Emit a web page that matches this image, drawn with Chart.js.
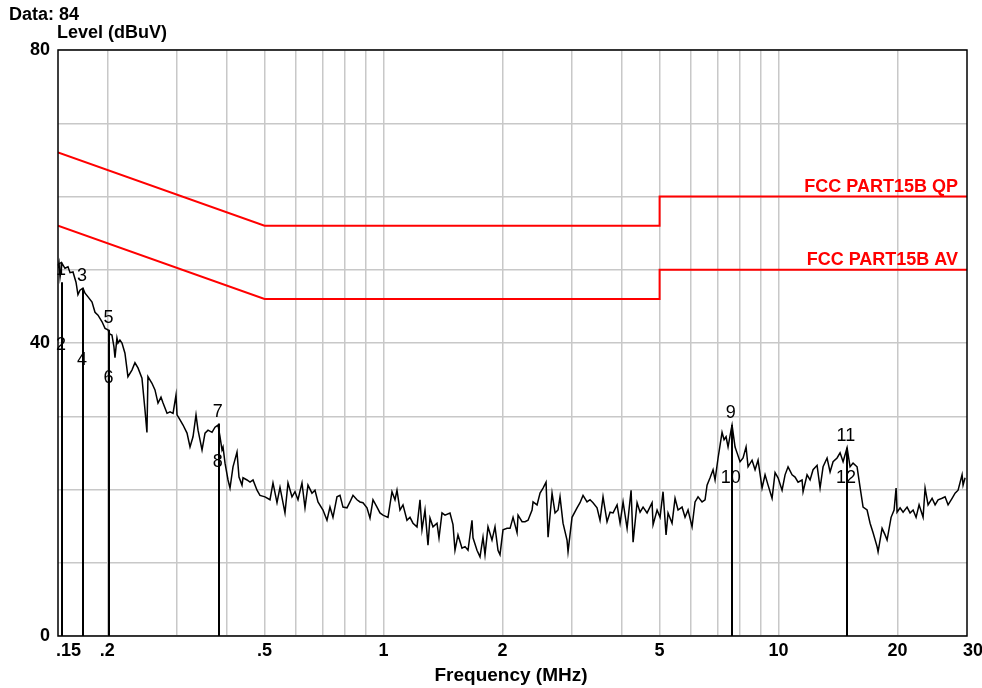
<!DOCTYPE html>
<html>
<head>
<meta charset="utf-8">
<script src="https://cdn.jsdelivr.net/npm/chart.js@4.4.1/dist/chart.umd.min.js"></script>
<style>
  html, body { margin: 0; padding: 0; background: #ffffff; }
  canvas { display: block; }
</style>
</head>
<body>
<canvas id="c" width="982" height="688"></canvas>
<script>
// ---- Data ----
const freqMHz = [
  0.150,0.1509,0.1518,0.1535,0.1562,0.1590,0.1609,0.1637,0.1666,0.1685,0.1705,0.1735,0.1756,0.1787,0.1829,0.1861,0.1894,0.1939,0.1973,0.2007,
  0.2031,0.2054,0.2078,0.2091,0.2115,0.2128,0.2152,0.2178,0.2216,0.2255,0.2308,0.2349,0.2391,0.2447,0.2490,0.2519,0.2534,0.2594,0.2640,0.2687,
  0.2734,0.2767,0.2832,0.2882,0.2933,0.2984,0.3002,0.3055,0.3109,0.3182,0.3238,0.3295,0.3353,0.3393,0.3473,0.3534,0.3596,
  0.3681,0.3746,0.3812,0.3857,0.3902,0.3925,0.3971,0.4041,0.4088,0.4160,0.4258,0.4308,0.4384,0.4410,0.4514,0.4594,0.4675,0.4785,
  0.4868,0.5013,0.5161,0.5252,0.5376,0.5471,0.5632,0.5732,0.5867,0.5970,0.6076,0.6219,0.6329,
  0.6440,0.6592,0.6708,0.6827,0.7029,0.7194,0.7321,0.7450,0.7626,0.7761,0.7898,0.8084,0.8226,0.8372,0.8569,
  0.8720,0.8874,0.9083,0.9244,0.9407,0.9629,0.9798,0.9971,1.0266,1.0508,1.0694,1.0819,1.1010,1.1204,1.1468,
  1.1671,1.1877,1.2157,1.2372,1.2517,1.2738,1.2962,1.3114,1.3346,1.3661,1.3821,1.4065,1.4313,1.4736,1.4996,1.5172,
  1.544,1.5804,1.6083,1.6367,1.6753,1.6851,1.7248,1.7553,1.7862,1.8072,1.8390,1.8824,1.9156,1.9494,1.9723,2.0071,
  2.055,2.0913,2.1281,2.1783,2.1911,2.2428,2.2824,2.3226,2.3774,2.3913,2.4477,2.4909,2.5348,2.5795,2.6098,2.6714,2.7185,
  2.766,2.7984,2.8478,2.9150,2.9321,3.0012,3.0900,3.1445,3.2000,3.2755,3.3332,3.3920,3.4720,3.5333,3.5956,3.6804,
  3.7465,3.8126,3.9025,3.9714,4.0414,4.1367,4.2343,4.2840,4.3851,4.4624,4.5411,4.6482,4.7857,4.8136,4.9272,
  5.0131,5.1016,5.1916,5.2525,5.3764,5.4713,5.5677,5.6991,5.7996,5.9019,6.0412,6.1477,6.2561,6.4037,6.5167,
  6.5934,6.7099,6.8282,6.9083,7.0302,7.1960,7.2804,7.3658,7.4521,7.5836,7.6279,7.7625,7.8535,7.9920,8.1330,8.2765,8.3735,8.5711,8.7222,
  8.876,9.0854,9.2458,9.4089,9.6308,9.8008,9.9736,10.209,10.389,10.572,10.822,11.012,11.207,11.471,11.538,11.810,
  12.019,12.231,12.520,12.741,12.966,13.271,13.506,13.744,14.068,14.316,14.569,14.912,15.175,15.443,15.807,
  16.087,16.370,16.757,17.052,17.353,17.762,17.866,18.288,18.610,18.828,19.273,19.613,19.843,19.959,20.311,20.669,21.157,
  21.530,21.910,22.296,22.689,23.225,23.497,23.911,24.476,24.907,25.347,25.945,26.402,26.868,27.502,27.987,
  28.48,29.152,29.323,29.666
];
const levelDbuV = [
  50.2,50.9,49.0,50.9,50.2,50.4,49.6,49.7,48.3,46.6,47.2,47.5,46.8,46.3,45.6,44.2,43.8,42.9,42.0,41.8,
  41.2,41.1,39.5,38.0,40.7,40.0,40.4,40.0,38.6,35.4,36.3,37.3,36.6,35.2,30.9,27.8,35.4,34.5,33.6,31.8,
  32.6,31.8,30.4,30.6,30.4,32.9,30.2,29.5,28.8,27.7,25.8,27.2,30.2,28.1,25.4,27.7,28.1,
  27.8,28.5,28.8,27.2,25.4,25.8,23.6,21.3,20.2,23.1,25.1,21.7,20.6,21.6,21.3,21.0,21.3,19.9,
  19.2,19.0,18.6,20.9,18.2,20.3,16.8,20.9,19.0,19.7,18.6,20.9,17.5,
  20.6,19.5,19.9,18.3,17.2,15.8,17.6,16.2,19.0,19.2,17.6,17.5,18.3,19.2,18.6,
  18.3,18.2,17.5,16.1,18.6,17.6,16.8,16.5,16.2,19.7,18.6,19.9,17.2,17.9,15.8,
  16.2,15.4,14.9,18.6,14.5,17.2,12.4,16.1,14.9,15.4,13.4,16.8,16.5,16.8,15.2,11.7,
  13.8,12.0,12.2,11.7,15.8,13.4,11.7,10.8,13.5,11.1,14.9,13.1,14.9,11.7,11.1,14.5,
  14.7,14.7,16.2,14.1,16.5,15.6,15.6,15.8,17.2,18.3,17.9,19.5,20.2,21.0,13.5,19.5,16.8,
  17.2,19.0,15.4,13.1,11.5,16.2,17.5,18.2,19.2,18.3,18.6,18.2,17.5,15.8,19.0,15.6,
  16.9,16.8,17.9,15.4,18.3,14.7,19.9,12.8,18.2,16.9,17.6,16.8,18.2,15.2,17.2,
  16.2,19.7,13.8,16.8,15.4,18.8,17.2,17.6,16.2,17.2,14.9,18.3,19.0,18.3,18.6,
  20.6,21.6,22.7,21.3,24.3,27.8,26.8,27.2,25.8,28.1,28.8,25.8,25.0,23.8,24.3,25.8,23.1,24.0,22.7,
  24.0,20.2,22.0,20.6,18.8,22.3,21.6,19.9,22.0,23.1,22.0,21.7,21.0,21.3,19.7,22.0,
  21.3,22.7,23.3,20.2,23.1,24.3,22.4,23.8,24.3,25.0,23.8,25.7,23.1,23.6,23.1,
  20.3,17.6,17.2,15.4,14.1,12.2,11.5,14.7,13.8,13.1,16.2,17.2,20.2,16.9,17.5,16.9,17.6,
  16.8,17.2,16.2,17.9,16.2,20.2,17.9,18.8,17.9,18.6,18.8,19.0,17.9,18.8,19.5,
  19.9,22.0,20.6,21.6
];

const limitFreq = [0.15, 0.5, 5, 5, 30];
const qpLimit   = [66, 56, 56, 60, 60];
const avLimit   = [56, 46, 46, 50, 50];
const qpLimitName = 'FCC PART15B QP';
const avLimitName = 'FCC PART15B AV';

const markerFreq   = [0.1535, 0.1735, 0.2025, 0.383, 7.61, 14.9];
const markerQp     = [48.3, 47.5, 41.8, 29.0, 28.8, 25.7];
const markerAv     = [38.1, 36.0, 33.6, 22.1, 19.9, 19.9];
const markerQpName = ['1', '3', '5', '7', '9', '11'];
const markerAvName = ['2', '4', '6', '8', '10', '12'];

const xTickValues = [0.15, 0.2, 0.5, 1, 2, 5, 10, 20, 30];
const xTickLabels = ['.15', '.2', '.5', '1', '2', '5', '10', '20', '30'];
const xGridValues = [0.2, 0.3, 0.4, 0.5, 0.6, 0.7, 0.8, 0.9, 1, 2, 3, 4, 5, 6, 7, 8, 9, 10, 20];
const yTickLabelled = [0, 40, 80];

const titleText = 'Data: 84';
const yTitle = 'Level (dBuV)';
const xTitle = 'Frequency (MHz)';

// ---- Chart ----
const FONT = 'Arial, "Liberation Sans", sans-serif';
const pts = (xs, ys) => xs.map((x, i) => ({ x: x, y: ys[i] }));

const decor = {
  id: 'decor',
  afterDatasetsDraw(chart) {
    const ctx = chart.ctx;
    const xs = chart.scales.x, ys = chart.scales.y;
    const ca = chart.chartArea;
    ctx.save();
    // marker lines
    ctx.strokeStyle = '#000';
    ctx.lineWidth = 2;
    markerFreq.forEach((f, i) => {
      const px = Math.round(xs.getPixelForValue(f));
      ctx.beginPath();
      ctx.moveTo(px, ys.getPixelForValue(0));
      ctx.lineTo(px, ys.getPixelForValue(markerQp[i]));
      ctx.stroke();
    });
    // marker labels
    ctx.fillStyle = '#000';
    ctx.font = '18px ' + FONT;
    ctx.textAlign = 'center';
    ctx.textBaseline = 'middle';
    markerFreq.forEach((f, i) => {
      const px = xs.getPixelForValue(f) - 1;
      ctx.fillText(markerQpName[i], px, ys.getPixelForValue(markerQp[i]) - 12);
      ctx.fillText(markerAvName[i], px, ys.getPixelForValue(markerAv[i]) - 12);
    });
    // limit names
    ctx.fillStyle = '#ff0000';
    ctx.font = 'bold 18px ' + FONT;
    ctx.textAlign = 'right';
    ctx.textBaseline = 'alphabetic';
    ctx.fillText(qpLimitName, ca.right - 9, ys.getPixelForValue(qpLimit[4]) - 5);
    ctx.fillText(avLimitName, ca.right - 9, ys.getPixelForValue(avLimit[4]) - 5);
    // frame
    ctx.strokeStyle = '#000';
    ctx.lineWidth = 1.5;
    ctx.strokeRect(ca.left, ca.top, ca.right - ca.left, ca.bottom - ca.top);
    // x tick labels
    ctx.fillStyle = '#000';
    ctx.font = 'bold 18px ' + FONT;
    ctx.textBaseline = 'middle';
    xTickValues.forEach((v, i) => {
      let px = xs.getPixelForValue(v);
      if (i === 0) { ctx.textAlign = 'left'; px -= 2; }
      else if (i === xTickValues.length - 1) { ctx.textAlign = 'left'; px -= 4; }
      else ctx.textAlign = 'center';
      ctx.fillText(xTickLabels[i], px, ca.bottom + 15);
    });
    // titles
    ctx.textAlign = 'center';
    ctx.font = 'bold 19px ' + FONT;
    ctx.fillText(xTitle, 511, ca.bottom + 40);
    ctx.textAlign = 'left';
    ctx.font = 'bold 18px ' + FONT;
    ctx.fillText(titleText, 9, 15);
    ctx.fillText(yTitle, 57, 33);
    ctx.restore();
  }
};

new Chart(document.getElementById('c'), {
  type: 'scatter',
  data: {
    datasets: [
      { data: pts(freqMHz, levelDbuV), showLine: true, borderColor: '#000', borderWidth: 1.5,
        pointRadius: 0, tension: 0, order: 1 },
      { data: pts(limitFreq, qpLimit), showLine: true, borderColor: '#ff0000', borderWidth: 2,
        pointRadius: 0, tension: 0, order: 2 },
      { data: pts(limitFreq, avLimit), showLine: true, borderColor: '#ff0000', borderWidth: 2,
        pointRadius: 0, tension: 0, order: 2 }
    ]
  },
  options: {
    responsive: false,
    animation: false,
    devicePixelRatio: 1,
    layout: { padding: { top: 50, right: 15, left: 0, bottom: 0 } },
    plugins: { legend: { display: false }, tooltip: { enabled: false } },
    scales: {
      x: {
        type: 'logarithmic', min: 0.15, max: 30,
        afterBuildTicks: (s) => { s.ticks = xGridValues.map(v => ({ value: v })); },
        afterFit: (s) => { s.height = 52; },
        ticks: { display: false },
        grid: { color: '#c8c8c8', lineWidth: 1.5, drawTicks: false },
        border: { display: false }
      },
      y: {
        type: 'linear', min: 0, max: 80,
        ticks: {
          stepSize: 10, padding: 8, color: '#000',
          font: { family: FONT, size: 18, weight: 'bold' },
          callback: (v) => yTickLabelled.includes(v) ? String(v) : ''
        },
        afterFit: (s) => { s.width = 58; },
        grid: { color: '#c8c8c8', lineWidth: 1.5, drawTicks: false },
        border: { display: false }
      }
    }
  },
  plugins: [decor]
});
</script>
</body>
</html>
